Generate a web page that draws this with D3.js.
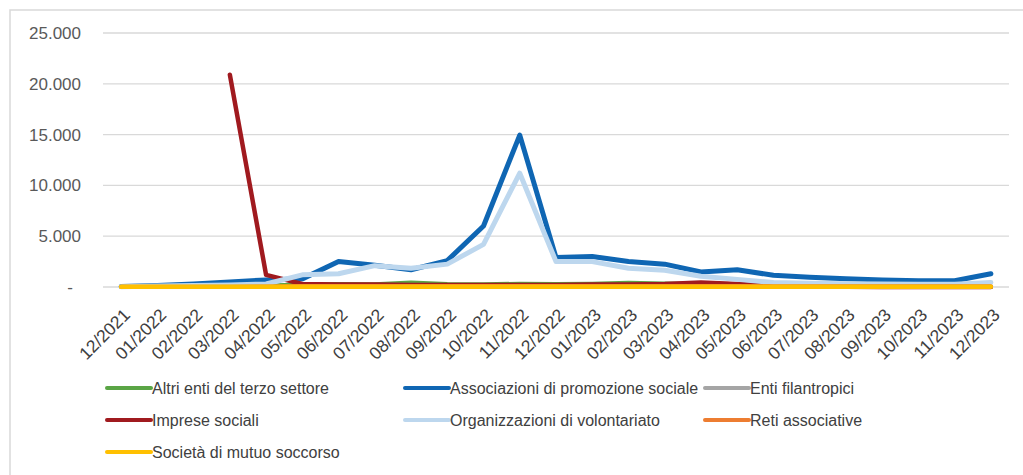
<!DOCTYPE html>
<html><head><meta charset="utf-8">
<script src="https://cdn.jsdelivr.net/npm/d3@7"></script>
<style>
html,body{margin:0;padding:0;background:#fff;}
svg{display:block;}
text{font-family:"Liberation Sans",Arial,sans-serif;fill:#404040;}
</style></head>
<body>
<svg id="chart" width="1023" height="475"></svg>
<script>
const months = ["12/2021","01/2022","02/2022","03/2022","04/2022","05/2022","06/2022","07/2022","08/2022","09/2022","10/2022","11/2022","12/2022","01/2023","02/2023","03/2023","04/2023","05/2023","06/2023","07/2023","08/2023","09/2023","10/2023","11/2023","12/2023"];
const altriEnti = [10,20,30,50,150,250,300,280,450,300,280,320,300,330,420,350,330,250,120,60,40,30,30,30,30];
const associazioniPromozione = [50,150,300,500,700,800,2500,2150,1700,2600,6000,14950,2900,3000,2500,2250,1480,1700,1150,950,800,700,620,620,1300];
const entiFilantropici = [10,10,10,10,10,10,10,10,10,10,10,10,10,10,10,10,10,10,10,10,10,10,10,10,10];
const impreseSociali = [null,null,null,20900,1200,300,250,250,200,200,200,200,200,250,250,300,450,300,150,50,20,10,10,10,10];
const organizzazioniVolontariato = [30,100,150,200,300,1200,1300,2100,1850,2250,4200,11200,2500,2500,1850,1650,1050,750,450,380,330,300,280,280,450];
const retiAssociative = [20,20,20,30,60,100,100,100,100,100,100,100,100,100,100,100,100,100,80,80,80,80,80,80,80];
const mutuoSoccorso = [30,30,30,30,30,30,30,30,30,30,30,30,30,30,30,30,30,30,30,30,30,30,30,30,30];
const yTicks = [0,5000,10000,15000,20000,25000];

const seriesNames = ["Altri enti del terzo settore","Associazioni di promozione sociale","Enti filantropici","Imprese sociali","Organizzazioni di volontariato","Reti associative","Società di mutuo soccorso"];
const seriesValues = [altriEnti, associazioniPromozione, entiFilantropici, impreseSociali, organizzazioniVolontariato, retiAssociative, mutuoSoccorso];
const seriesColors = ["#5aa545","#0f66b3","#a5a5a5","#a01a1f","#bdd7ee","#ed7d31","#ffc000"];
const seriesWidths = [4,5,4,4.5,5,4,4.5];

const svg = d3.select("#chart");
// outer frame
svg.append("rect").attr("x",10).attr("y",10).attr("width",1100).attr("height",600)
  .attr("fill","none").attr("stroke","#d9d9d9").attr("stroke-width",1.5);

const x = d3.scalePoint().domain(months).range([103,1009]).padding(0.5);
const y = d3.scaleLinear().domain([0,25000]).range([287,33]);

// gridlines
svg.append("g").selectAll("line").data(yTicks).join("line")
  .attr("x1",103).attr("x2",1009).attr("y1",d=>y(d)).attr("y2",d=>y(d))
  .attr("stroke","#d9d9d9").attr("stroke-width",1.3);

// y axis labels
const fmt = d => d===0 ? "-" : d3.format(",")(d).replace(/,/g,".");
svg.append("g").selectAll("text").data(yTicks).join("text")
  .attr("x",d=>d===0?73:81).attr("y",d=>y(d)).attr("dy","0.35em")
  .attr("text-anchor","end").attr("font-size",17).style("fill","#595959")
  .text(fmt);

// x axis labels
svg.append("g").selectAll("text").data(months).join("text")
  .attr("transform",d=>`translate(${x(d)+10},316) rotate(-45)`)
  .attr("text-anchor","end").attr("font-size",17.5).style("fill","#404040")
  .text(d=>d);

// lines
const line = d3.line().defined(d=>d!=null).x((d,i)=>x(months[i])).y(d=>y(d));
seriesValues.forEach((vals,k)=>{
  svg.append("path").datum(vals).attr("d",line)
    .attr("fill","none").attr("stroke",seriesColors[k]).attr("stroke-width",seriesWidths[k])
    .attr("stroke-linejoin","round").attr("stroke-linecap","round");
});

// legend
const colX = [107,405,705];
const rowY = [388,420,452];
seriesNames.forEach((name,k)=>{
  const cx = colX[k%3], cy = rowY[Math.floor(k/3)];
  svg.append("line").attr("x1",cx).attr("x2",cx+44).attr("y1",cy).attr("y2",cy)
    .attr("stroke",seriesColors[k]).attr("stroke-width",4).attr("stroke-linecap","round");
  svg.append("text").attr("x",cx+45).attr("y",cy).attr("dy","0.35em")
    .attr("font-size",16).style("fill","#404040").text(name);
});
</script>
</body></html>
